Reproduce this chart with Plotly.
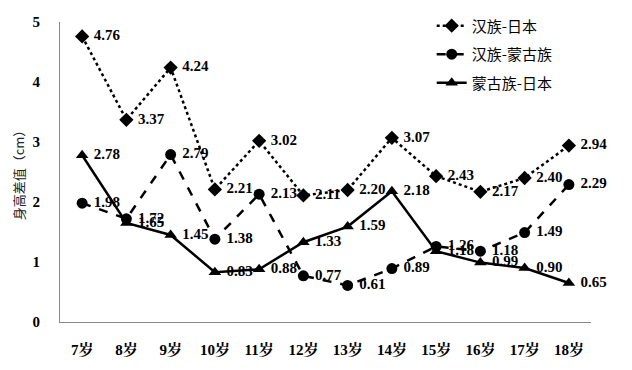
import plotly.graph_objects as go

categories = ["7岁", "8岁", "9岁", "10岁", "11岁", "12岁", "13岁", "14岁", "15岁", "16岁", "17岁", "18岁"]
han_japan = [4.76, 3.37, 4.24, 2.21, 3.02, 2.11, 2.20, 3.07, 2.43, 2.17, 2.40, 2.94]
han_mongol = [1.98, 1.72, 2.79, 1.38, 2.13, 0.77, 0.61, 0.89, 1.26, 1.18, 1.49, 2.29]
mongol_japan = [2.78, 1.65, 1.45, 0.83, 0.88, 1.33, 1.59, 2.18, 1.18, 0.99, 0.90, 0.65]
series_names = ["汉族-日本", "汉族-蒙古族", "蒙古族-日本"]
y_ticks = [0, 1, 2, 3, 4, 5]

serif = "Liberation Serif, Noto Serif CJK SC, Noto Sans CJK SC"
label_font = dict(family="Liberation Serif", size=15, color="black")

styles = [
    dict(dash="dot", symbol="diamond", size=11),
    dict(dash="dash", symbol="circle", size=11),
    dict(dash="solid", symbol="triangle-up", size=11),
]

fig = go.Figure()
for i, (name, vals) in enumerate(zip(series_names, [han_japan, han_mongol, mongol_japan])):
    st = styles[i]
    fig.add_trace(go.Scatter(
        x=categories, y=vals, name=name, legendgroup=name,
        mode="lines+markers+text",
        line=dict(color="black", width=2.5, dash=st["dash"]),
        marker=dict(symbol=st["symbol"], size=st["size"], color="black"),
        text=[f"<b> {v:.2f}</b>" for v in vals],
        textposition="middle right",
        textfont=label_font,
        cliponaxis=False,
    ))

# page body has an 8px default margin, so the figure is sized/offset to compensate
fig.update_layout(
    width=624, height=362,
    margin=dict(l=52, r=41, t=14, b=48, autoexpand=False),
    plot_bgcolor="white", paper_bgcolor="white",
    showlegend=True,
    legend=dict(
        x=0.70, y=1.042, xanchor="left", yanchor="top",
        font=dict(family="Noto Sans CJK SC", size=15, color="black"),
        bgcolor="rgba(0,0,0,0)", tracegroupgap=6, traceorder="grouped",
        itemwidth=30,
    ),
    xaxis=dict(
        type="category", range=[-0.5, 11.5], automargin=False,
        showline=True, linecolor="#888888", linewidth=1,
        showgrid=False, ticks="", ticklabelstandoff=14,
        tickfont=dict(family=serif, size=15, color="black", weight="bold"),
        zeroline=False,
    ),
    yaxis=dict(
        range=[0, 5], tickvals=y_ticks, automargin=False,
        showline=True, linecolor="#888888", linewidth=1,
        showgrid=False, ticks="", ticklabelstandoff=16,
        tickfont=dict(family="Liberation Serif", size=15, color="black", weight="bold"),
        zeroline=False,
        title=dict(text="身高差值（cm）", font=dict(family="Noto Sans CJK SC", size=13, color="#222222"), standoff=4),
    ),
)

fig.write_html("out.html")
